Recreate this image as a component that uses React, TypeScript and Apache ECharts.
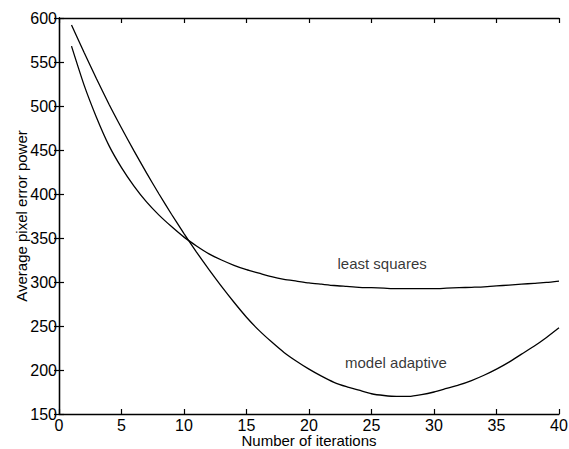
import React, { useEffect, useRef } from "react";
import * as echarts from "echarts";

const iterations = Array.from({ length: 40 }, (_, i) => i + 1);

const leastSquares = [
  568, 524, 487, 455, 430, 409, 391, 376, 363, 351,
  341, 332, 325, 319, 314, 310, 306, 303, 301, 299,
  297.5, 296, 295, 294, 293.5, 293, 292.5, 292.5, 292.5, 292.5,
  293, 293.5, 294, 294.5, 295.5, 296.5, 297.5, 298.5, 299.5, 301,
];

const modelAdaptive = [
  592, 561, 531, 502, 475, 449, 424, 400, 377, 355,
  334, 314, 295, 277, 260, 245, 232, 220, 210, 201,
  193, 186, 181, 177, 173, 171, 170, 170, 172, 175,
  179, 183, 188, 194, 201, 209, 218, 227, 237, 248,
];

const annotations = [
  { name: "least squares", value: [25.85, 321] },
  { name: "model adaptive", value: [26.95, 209] },
];

const xTicks = { min: 0, max: 40, interval: 5 };
const yTicks = { min: 150, max: 600, interval: 50 };

const FONT = "'Liberation Sans', Arial, sans-serif";

export default function App() {
  const ref = useRef<HTMLDivElement>(null);

  useEffect(() => {
    if (!ref.current) return;
    const chart = echarts.init(ref.current, undefined, { renderer: "svg" });
    const axisLine = { show: true, lineStyle: { color: "#000", width: 1.3 } };
    const axisTick = { show: true, inside: true, length: 5, lineStyle: { color: "#000", width: 1.2 } };
    const axisLabel = { color: "#000", fontSize: 16, fontFamily: FONT };
    chart.setOption({
      animation: false,
      backgroundColor: "#fff",
      grid: {
        left: 59,
        right: 10,
        top: 18,
        bottom: 35,
        containLabel: false,
        outerBoundsMode: "none",
      },
      xAxis: [
        {
          type: "value",
          ...xTicks,
          position: "bottom",
          name: "Number of iterations",
          nameLocation: "middle",
          nameGap: 19,
          nameMoveOverlap: false,
          nameTextStyle: { color: "#000", fontSize: 15, lineHeight: 15, fontFamily: FONT },
          axisLine,
          axisTick,
          axisLabel: { ...axisLabel, margin: 3 },
          splitLine: { show: false },
        },
        {
          type: "value",
          ...xTicks,
          position: "top",
          axisLine,
          axisTick,
          axisLabel: { show: false },
          splitLine: { show: false },
        },
      ],
      yAxis: [
        {
          type: "value",
          ...yTicks,
          position: "left",
          name: "Average pixel error power",
          nameLocation: "middle",
          nameGap: 30,
          nameMoveOverlap: false,
          nameTextStyle: { color: "#000", fontSize: 15, lineHeight: 15, fontFamily: FONT },
          axisLine,
          axisTick,
          axisLabel: { ...axisLabel, margin: 2 },
          splitLine: { show: false },
        },
        {
          type: "value",
          ...yTicks,
          position: "right",
          axisLine,
          axisTick,
          axisLabel: { show: false },
          splitLine: { show: false },
        },
      ],
      series: [
        {
          name: "least squares",
          type: "line",
          data: iterations.map((x, i) => [x, leastSquares[i]]),
          showSymbol: false,
          smooth: 0.2,
          lineStyle: { color: "#000", width: 1.3 },
        },
        {
          name: "model adaptive",
          type: "line",
          data: iterations.map((x, i) => [x, modelAdaptive[i]]),
          showSymbol: false,
          smooth: 0.2,
          lineStyle: { color: "#000", width: 1.3 },
        },
        {
          type: "scatter",
          data: annotations,
          symbolSize: 0,
          label: {
            show: true,
            position: "inside",
            formatter: (p: any) => p.name,
            color: "#000",
            fontSize: 15,
            fontFamily: FONT,
          },
        },
      ],
    });
    return () => chart.dispose();
  }, []);

  return (
    <div
      ref={ref}
      style={{ position: "fixed", left: 0, top: 0, width: 569, height: 449 }}
    />
  );
}
